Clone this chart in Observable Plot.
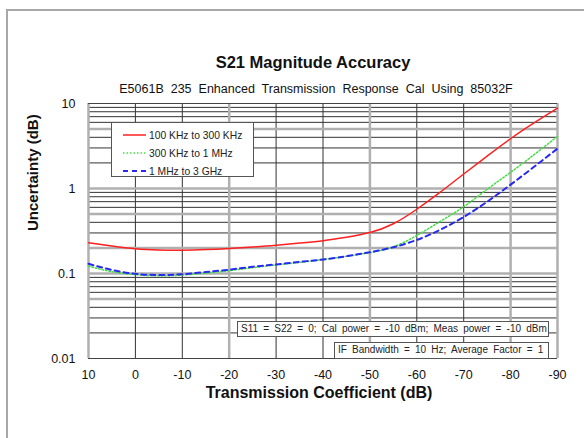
<!DOCTYPE html>
<html><head><meta charset="utf-8">
<script src="https://cdn.jsdelivr.net/npm/d3@7"></script>
<script src="https://cdn.jsdelivr.net/npm/@observablehq/plot@0.6"></script>
<style>
body{margin:0;background:#fff;font-family:"Liberation Sans",Arial,sans-serif;}
#wrap{position:relative;width:584px;height:438px;overflow:hidden;}
#border{position:absolute;left:6px;top:9px;width:700px;height:600px;border:2px solid #a8a8a8;pointer-events:none;}
.box{position:absolute;background:#fff;border:1px solid #555;font-size:10px;color:#222;white-space:nowrap;box-sizing:border-box;}
.ann{word-spacing:2.4px;line-height:14px;padding:0 3px;}
.leg{padding:3px 0 0 10px;font-size:10.3px;}
.leg .row{height:18px;display:flex;align-items:center;}
.leg svg{margin-right:3px;}
</style></head>
<body><div id="wrap"></div>
<script>
const title = "S21 Magnitude Accuracy";
const subtitle = "E5061B 235 Enhanced Transmission Response Cal Using 85032F";
const xLabel = "Transmission Coefficient (dB)";
const yLabel = "Uncertainty (dB)";
const seriesNames = ["100 KHz to 300 KHz", "300 KHz to 1 MHz", "1 MHz to 3 GHz"];
const note1 = "S11 = S22 = 0; Cal power = -10 dBm; Meas power = -10 dBm";
const note2 = "IF Bandwidth  = 10 Hz; Average Factor = 1";

const transmission = [10, 5, 0, -5, -10, -15, -20, -25, -30, -35, -40, -45, -50, -55, -60, -65, -70, -75, -80, -85, -90];
const red   = [0.23, 0.21, 0.195, 0.189, 0.188, 0.191, 0.197, 0.205, 0.215, 0.228, 0.243, 0.267, 0.303, 0.385, 0.57, 0.905, 1.48, 2.4, 3.85, 5.9, 8.8];
const green = [0.122, 0.105, 0.097, 0.094, 0.096, 0.101, 0.108, 0.117, 0.126, 0.135, 0.146, 0.159, 0.176, 0.206, 0.28, 0.41, 0.61, 0.98, 1.55, 2.5, 4.1];
const blue  = [0.13, 0.11, 0.099, 0.096, 0.098, 0.104, 0.111, 0.12, 0.128, 0.137, 0.146, 0.16, 0.178, 0.204, 0.248, 0.327, 0.462, 0.70, 1.11, 1.8, 2.95];

const xTicks = [10, 0, -10, -20, -30, -40, -50, -60, -70, -80, -90];
const yTicks = [10, 1, 0.1, 0.01];
const yTickLabels = ["10", "1", "0.1", "0.01"];
const xGridMajor = [10, -20, -50, -80, -90];
const yGrid = [];
[0.01, 0.1, 1].forEach(d => { for (let k = 1; k <= 9; k++) yGrid.push(+(d * k).toPrecision(3)); });
yGrid.push(10);
const yGridMajor = [0.05, 0.1, 0.2, 0.5, 1, 5];

const colors = ["#ff2020", "#44dd44", "#2828f0"];
const dashes = [null, "1.5,2", "5,4"];
const widths = [1.5, 1.5, 2];

const rows = [];
[red, green, blue].forEach((arr, i) => arr.forEach((v, j) => rows.push({series: seriesNames[i], x: transmission[j], y: v})));

const font = "'Liberation Sans', Arial, sans-serif";

const plot = Plot.plot({
  width: 584, height: 438,
  marginLeft: 88, marginRight: 27, marginTop: 103, marginBottom: 80,
  style: {fontFamily: font, background: "transparent", color: "#111", overflow: "visible"},
  x: {domain: [10, -90]},
  y: {type: "log", domain: [0.01, 10]},
  marks: [
    Plot.ruleY(yGrid.filter(v => !yGridMajor.includes(v)), {stroke: "#333", strokeWidth: 1}),
    Plot.ruleX(xTicks.filter(v => !xGridMajor.includes(v)), {stroke: "#333", strokeWidth: 1}),
    Plot.ruleY(yGridMajor, {stroke: "#b0b0b0", strokeWidth: 2.5}),
    Plot.ruleX(xGridMajor, {stroke: "#b0b0b0", strokeWidth: 2.5}),
    Plot.ruleY([10, 0.01], {stroke: "#444", strokeWidth: 1}),
    ...seriesNames.map((s, i) => Plot.line(rows.filter(r => r.series === s), {
      x: "x", y: "y", stroke: colors[i], strokeWidth: widths[i], strokeDasharray: dashes[i], curve: "natural"
    })),
    Plot.axisX({ticks: xTicks, tickSize: 0, tickPadding: 12, fontSize: 12.5, label: null, tickFormat: d => String(d)}),
    Plot.axisY({ticks: yTicks, tickSize: 0, tickPadding: 13, fontSize: 12.5, label: null, tickFormat: (d) => yTickLabels[yTicks.indexOf(d)]}),
    Plot.text([title], {frameAnchor: "top", dx: -10, dy: -41, lineAnchor: "middle", fontSize: 16.5, fontWeight: "bold", fill: "#111"}),
    Plot.text([subtitle], {frameAnchor: "top", dx: -7, dy: -15, lineAnchor: "middle", fontSize: 12.5, fill: "#111"}),
    Plot.text([xLabel], {frameAnchor: "bottom", dx: -4, dy: 34, lineAnchor: "middle", fontSize: 16, fontWeight: "bold", fill: "#111"}),
    Plot.text([yLabel], {frameAnchor: "left", dx: -55, rotate: -90, lineAnchor: "middle", fontSize: 15, fontWeight: "bold", fill: "#111"})
  ]
});
plot.querySelectorAll("text").forEach(t => { if (t.textContent === subtitle) t.style.wordSpacing = "3.5px"; });
const wrap = document.getElementById("wrap");
wrap.appendChild(plot);

// legend
const leg = document.createElement("div");
leg.className = "box leg";
Object.assign(leg.style, {left: "111px", top: "122px", width: "143px", height: "55px"});
seriesNames.forEach((s, i) => {
  const r = document.createElement("div"); r.className = "row";
  r.innerHTML = `<svg width="24" height="6"><line x1="1" y1="3" x2="24" y2="3" stroke="${colors[i]}" stroke-width="${widths[i]}" ${dashes[i] ? `stroke-dasharray="${dashes[i]}"` : ""}/></svg><span>${s}</span>`;
  leg.appendChild(r);
});
wrap.appendChild(leg);

const a1 = document.createElement("div");
a1.className = "box ann"; a1.textContent = note1;
Object.assign(a1.style, {left: "237px", top: "321px", width: "312px", height: "16px"});
wrap.appendChild(a1);
const a2 = document.createElement("div");
a2.className = "box ann"; a2.textContent = note2;
Object.assign(a2.style, {left: "334px", top: "342px", width: "215px", height: "17px"});
wrap.appendChild(a2);

const b = document.createElement("div"); b.id = "border"; wrap.appendChild(b);
</script></body></html>
